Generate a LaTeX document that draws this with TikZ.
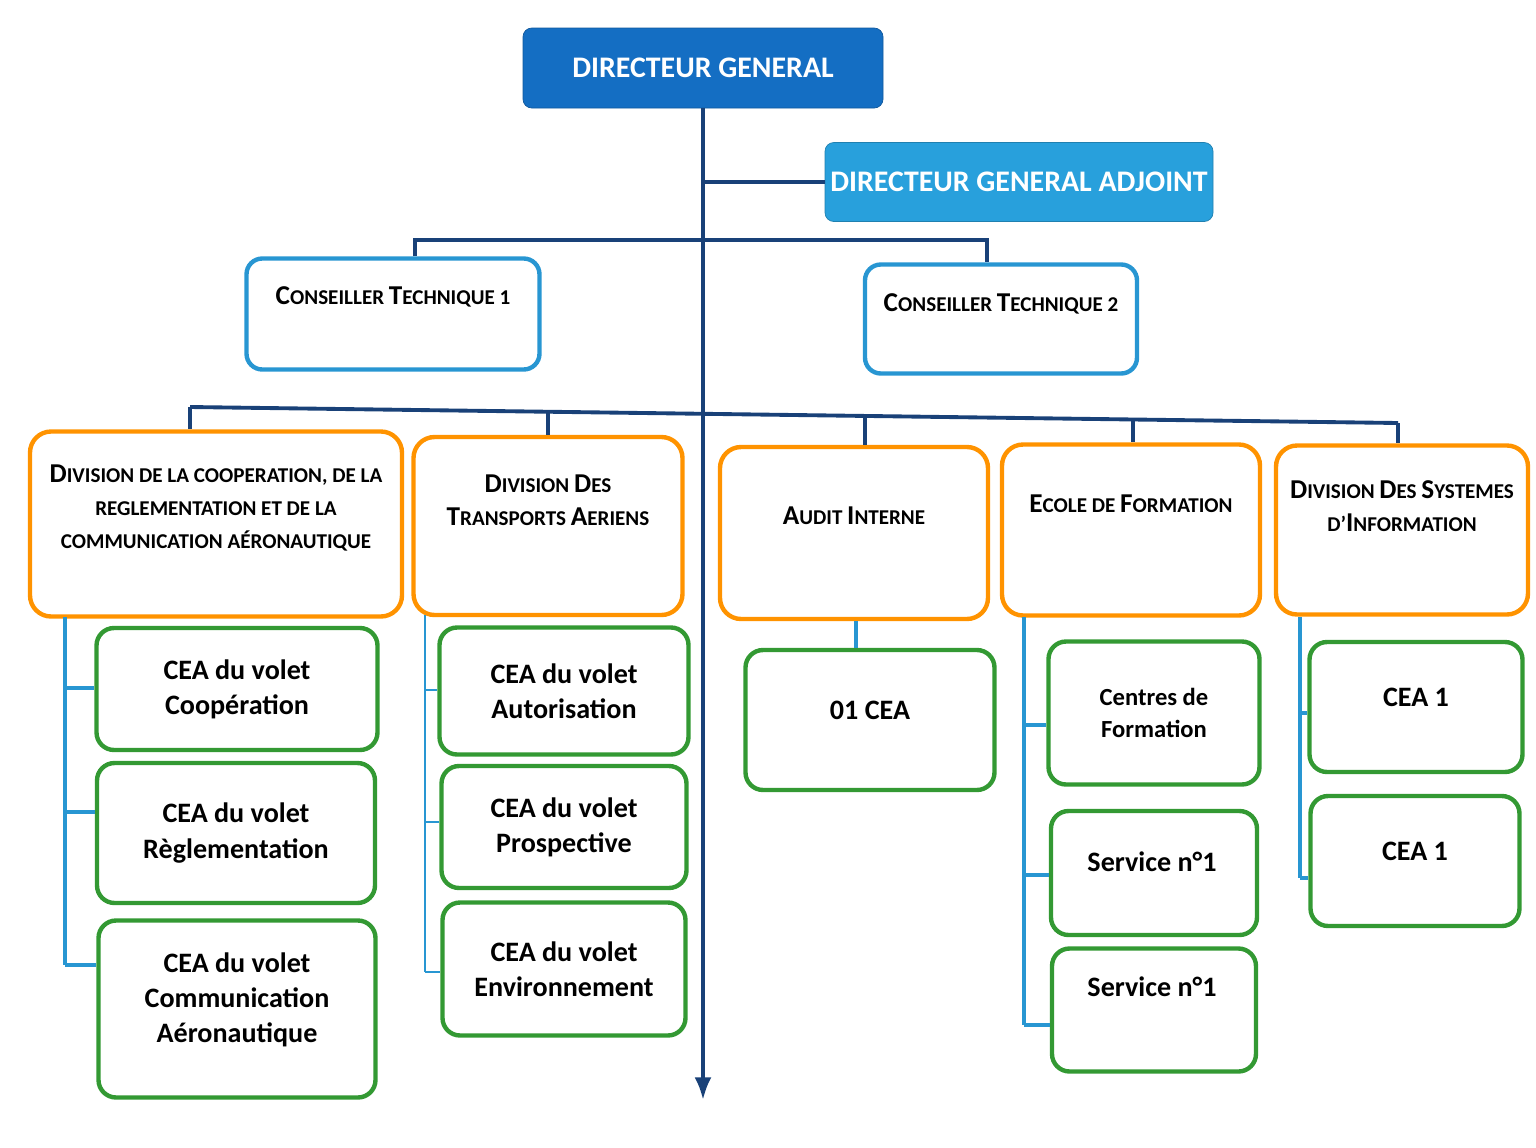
\documentclass[tikz,border=0pt]{standalone}
\usepackage{fontspec}
\setmainfont{Carlito}
\usetikzlibrary{arrows.meta,positioning}
\definecolor{dgblue}{RGB}{20,110,195}
\definecolor{dgablue}{RGB}{40,160,220}
\definecolor{trunk}{RGB}{25,65,120}
\definecolor{tickblue}{RGB}{40,150,210}
\newcommand\bigc[1]{{\fontsize{15.5}{19}\selectfont #1}}
\begin{document}
\begin{tikzpicture}[x=0.02cm,y=-0.02cm, >=Latex, font=\bfseries]
\tikzset{
  top/.style={rectangle, rounded corners=5pt, draw=#1!80!black, fill=#1, text=white, align=center, inner sep=1pt, font=\bfseries\fontsize{17}{20}\selectfont},
  cons/.style={rectangle, rounded corners=9pt, draw=tickblue, line width=2.5pt, fill=white, align=center},
  div/.style={rectangle, rounded corners=12pt, draw=orange!85!yellow, line width=2.5pt, fill=white, align=center, font=\bfseries\fontsize{12}{19}\selectfont},
  sub/.style={rectangle, rounded corners=10pt, draw=green!50!black!80, line width=2.5pt, fill=white, align=center, font=\bfseries\fontsize{16}{20}\selectfont},
  main/.style={draw=trunk, line width=2.2pt},
  tick/.style={draw=tickblue, line width=2pt}
}
\useasboundingbox (0,0) rectangle (1536,1147);
% top level
\node[top=dgblue, minimum width=360*0.02cm, minimum height=80*0.02cm] (dg) at (703,68) {DIRECTEUR GENERAL};
\node[top=dgablue, minimum width=388*0.02cm, minimum height=79*0.02cm] (dga) at (1019,182) {DIRECTEUR GENERAL ADJOINT};
% conseillers
\node[cons, minimum width=293*0.02cm, minimum height=111*0.02cm] (ct1) at (393,314) {};
\node[font=\bfseries\fontsize{12}{16}\selectfont] at (393,297) {\bigc{C}ONSEILLER \bigc{T}ECHNIQUE 1};
\node[cons, minimum width=272*0.02cm, minimum height=109*0.02cm] (ct2) at (1001,319) {};
\node[font=\bfseries\fontsize{12}{16}\selectfont] at (1001,304) {\bigc{C}ONSEILLER \bigc{T}ECHNIQUE 2};
% divisions
\node[div, minimum width=372*0.02cm, minimum height=185*0.02cm] (d1) at (216,524) {};
\node[div, draw=none, fill=none] at (216,508) {\bigc{D}IVISION DE LA COOPERATION, DE LA\\REGLEMENTATION ET DE LA\\COMMUNICATION AÉRONAUTIQUE};
\node[div, minimum width=269*0.02cm, minimum height=178*0.02cm] (d2) at (548,526) {};
\node[div, draw=none, fill=none] at (548,500) {\bigc{D}IVISION \bigc{D}ES\\\bigc{T}RANSPORTS \bigc{A}ERIENS};
\node[div, minimum width=268*0.02cm, minimum height=172*0.02cm] (d3) at (854,533) {};
\node[div, draw=none, fill=none] at (854,516) {\bigc{A}UDIT \bigc{I}NTERNE};
\node[div, minimum width=258*0.02cm, minimum height=171*0.02cm] (d4) at (1131,530) {};
\node[div, draw=none, fill=none] at (1131,504) {\bigc{E}COLE DE \bigc{F}ORMATION};
\node[div, minimum width=252*0.02cm, minimum height=169*0.02cm] (d5) at (1402,530) {};
\node[div, draw=none, fill=none] at (1402,506) {\bigc{D}IVISION \bigc{D}ES \bigc{S}YSTEMES\\D'\bigc{I}NFORMATION};
% green boxes
\node[sub, minimum width=281*0.02cm, minimum height=122*0.02cm] (g1a) at (237,689) {CEA du volet\\Coopération};
\node[sub, minimum width=278*0.02cm, minimum height=140*0.02cm] (g1b) at (236,833) {CEA du volet\\Règlementation};
\node[sub, minimum width=277*0.02cm, minimum height=177*0.02cm] (g1c) at (237,1009) {};
\node[sub, draw=none, fill=none] at (237,1000) {CEA du volet\\Communication\\Aéronautique};
\node[sub, minimum width=249*0.02cm, minimum height=127*0.02cm] (g2a) at (564,691) {CEA du volet\\Autorisation};
\node[sub, minimum width=245*0.02cm, minimum height=122*0.02cm] (g2b) at (564,827) {CEA du volet\\Prospective};
\node[sub, minimum width=243*0.02cm, minimum height=133*0.02cm] (g2c) at (564,969) {CEA du volet\\Environnement};
\node[sub, minimum width=249*0.02cm, minimum height=140*0.02cm] (g3) at (870,720) {};
\node[sub, draw=none, fill=none] at (870,710) {01 CEA};
\node[sub, minimum width=211*0.02cm, minimum height=143*0.02cm, font=\bfseries\fontsize{14}{18}\selectfont] (g4a) at (1154,713) {Centres de\\Formation};
\node[sub, minimum width=206*0.02cm, minimum height=124*0.02cm] (g4b) at (1154,873) {};
\node[sub, draw=none, fill=none] at (1152,862) {Service n°1};
\node[sub, minimum width=204*0.02cm, minimum height=123*0.02cm] (g4c) at (1154,1010) {};
\node[sub, draw=none, fill=none] at (1152,987) {Service n°1};
\node[sub, minimum width=213*0.02cm, minimum height=130*0.02cm] (g5a) at (1416,707) {};
\node[sub, draw=none, fill=none] at (1416,697) {CEA 1};
\node[sub, minimum width=209*0.02cm, minimum height=130*0.02cm] (g5b) at (1415,861) {};
\node[sub, draw=none, fill=none] at (1415,851) {CEA 1};
% main trunk
\coordinate (trunkend) at (703,1100);
\coordinate (jdga) at (703,182);
\coordinate (ctl) at (415,240); \coordinate (ctr) at (987,240);
\coordinate (dl) at (190,407); \coordinate (dr) at (1398,423);
\draw[main, ->] (dg.south) -- (trunkend);
\draw[main] (jdga) -- (dga.west);
\draw[main] (ct1.north -| ctl) -- (ctl) -- (ctr) -- (ct2.north -| ctr);
\draw[main] (dl) -- (dr);
\foreach \n/\x/\y in {d1/190/407, d2/548/412, d3/865/416, d4/1133/420, d5/1398/423}
  \draw[main] (\x,\y) -- (\n.north -| \x,0);
% brackets
\draw[tick] (65,617) -- (65,965);
\foreach \n/\y in {g1a/688, g1b/812, g1c/965} \draw[tick] (65,\y) -- (\n.west |- 0,\y);
\draw[tick, line width=1pt] (425,615) -- (425,972);
\foreach \n/\y in {g2a/690, g2b/822, g2c/972} \draw[tick, line width=1pt] (425,\y) -- (\n.west |- 0,\y);
\draw[tick] (d3.south -| 856,0) -- (g3.north -| 856,0);
\draw[tick] (1024,617) -- (1024,1025);
\foreach \n/\y in {g4a/725, g4b/875, g4c/1025} \draw[tick] (1024,\y) -- (\n.west |- 0,\y);
\draw[tick] (1300,617) -- (1300,878);
\foreach \n/\y in {g5a/713, g5b/878} \draw[tick] (1300,\y) -- (\n.west |- 0,\y);
\end{tikzpicture}
\end{document}
